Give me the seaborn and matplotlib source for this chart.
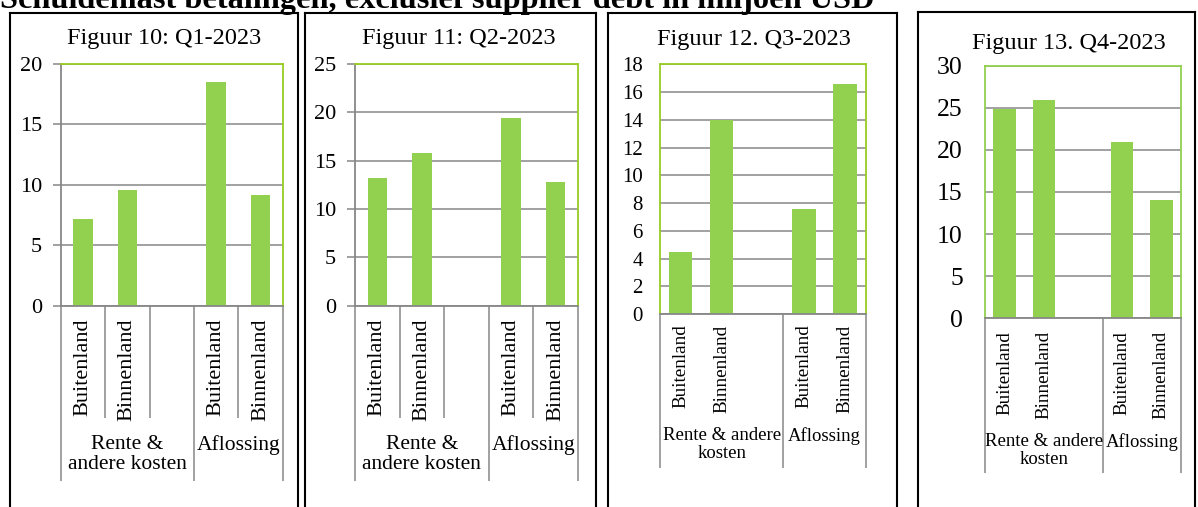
import matplotlib
matplotlib.use("Agg")
import matplotlib.pyplot as plt
import matplotlib.transforms as mtransforms
from matplotlib.lines import Line2D
import seaborn as sns
import pandas as pd

# ---- data -------------------------------------------------------------
main_title = "Schuldenlast betalingen, exclusief supplier debt in miljoen USD"
panel_titles = ["Figuur 10: Q1-2023", "Figuur 11: Q2-2023",
                "Figuur 12. Q3-2023", "Figuur 13. Q4-2023"]

groups = ["Rente & andere kosten", "Rente & andere kosten", "Aflossing", "Aflossing"]
origins = ["Buitenland", "Binnenland", "Buitenland", "Binnenland"]

q1_values = [7.2, 9.6, 18.5, 9.2]
q2_values = [13.2, 15.8, 19.4, 12.8]
q3_values = [4.5, 14.0, 7.6, 16.6]
q4_values = [24.9, 25.9, 20.9, 14.1]

y_maxima = [20, 25, 18, 30]
y_steps = [5, 5, 2, 5]

# group captions as they wrap under the narrow and the wider panels
group_captions_a = ["Rente &\nandere kosten", "Aflossing"]
group_captions_b = ["Rente & andere\nkosten", "Aflossing"]

# ---- styling ----------------------------------------------------------
W, H, DPI = 1198, 507, 100
BAR = "#92D050"
LIME = "#99CC22"
GRID = "#878787"

sns.set_theme(style="white")
plt.rcParams["font.family"] = ["Liberation Serif", "DejaVu Serif"]
plt.rcParams["text.color"] = "black"
plt.rcParams["xtick.color"] = "black"
plt.rcParams["ytick.color"] = "black"


def fx(px):
    return px / W


def fy(py):
    return 1 - py / H


fig = plt.figure(figsize=(W / DPI, H / DPI), dpi=DPI)
fig.patch.set_facecolor("white")

# slot order: two sub-bars, an empty slot, two sub-bars
slot_keys = [f"{g}|{o}" for g, o in zip(groups, origins)]
slot_order = slot_keys[:2] + ["-"] + slot_keys[2:]
slot_labels = origins[:2] + [""] + origins[2:]
group_centers = [1.0, 3.5]

panels = [
    dict(values=q1_values, ax=(60.7, 64.0, 282.7, 305.7), frame=(9.6, 12.6, 297.7),
         title_xy=(164, 44), bw=0.435, ytick_fs=16, ytick_len=5.5, ytick_pad=8.0,
         xtick_fs=16, xtick_pad=9.5, left_color=GRID, side_color=LIME,
         sub_div=418, grp_div=481, caption_top=435, captions=group_captions_a, cap_fs=15.5),
    dict(values=q2_values, ax=(355.0, 64.0, 578.0, 305.7), frame=(305.4, 12.6, 596.0),
         title_xy=(459, 44), bw=0.435, ytick_fs=16, ytick_len=5.5, ytick_pad=8.0,
         xtick_fs=16, xtick_pad=9.5, left_color=GRID, side_color=LIME,
         sub_div=418, grp_div=481, caption_top=435, captions=group_captions_a, cap_fs=15.5),
    dict(values=q3_values, ax=(660.0, 64.3, 865.7, 314.0), frame=(608.4, 12.6, 896.6),
         title_xy=(753.7, 45), bw=0.57, ytick_fs=15, ytick_len=0, ytick_pad=12.5,
         xtick_fs=13.8, xtick_pad=7.5, left_color=LIME, side_color=LIME,
         sub_div=None, grp_div=468, caption_top=427, captions=group_captions_b, cap_fs=13.5),
    dict(values=q4_values, ax=(985.0, 65.7, 1181.0, 318.3), frame=(918.3, 11.5, 1195.0),
         title_xy=(1069, 49), bw=0.57, ytick_fs=18.5, ytick_len=0, ytick_pad=16.0,
         xtick_fs=13.8, xtick_pad=9, left_color=BAR, side_color=BAR,
         sub_div=None, grp_div=473, caption_top=433, captions=group_captions_b, cap_fs=13.5),
]

for i, p in enumerate(panels):
    x0, y0, x1, y1 = p["ax"]
    ax = fig.add_axes([fx(x0), fy(y1), (x1 - x0) / W, (y1 - y0) / H])
    df = pd.DataFrame({"slot": slot_keys, "value": p["values"]})
    sns.barplot(data=df, x="slot", y="value", order=slot_order, color=BAR,
                saturation=1, width=p["bw"], linewidth=0, ax=ax)

    ymax, step = y_maxima[i], y_steps[i]
    ax.set_xlim(-0.5, 4.5)
    ax.set_ylim(0, ymax)
    ax.set_yticks(list(range(0, ymax + 1, step)))
    ax.set_xlabel("")
    ax.set_ylabel("")
    ax.set_facecolor("white")

    ax.set_axisbelow(True)
    ax.yaxis.grid(True, color=GRID, linewidth=1.1)
    ax.xaxis.grid(False)

    for side in ("top", "right"):
        ax.spines[side].set_color(p["side_color"])
        ax.spines[side].set_linewidth(1.3)
    ax.spines["left"].set_color(p["left_color"])
    ax.spines["left"].set_linewidth(1.3)
    ax.spines["bottom"].set_color(GRID)
    ax.spines["bottom"].set_linewidth(1.3)
    for s in ax.spines.values():
        s.set_visible(True)

    ax.tick_params(axis="y", labelsize=p["ytick_fs"], length=p["ytick_len"],
                   width=1.1, color=GRID, pad=p["ytick_pad"], direction="out",
                   left=True)
    ax.set_xticks(range(5))
    ax.set_xticklabels(slot_labels, rotation=90, fontsize=p["xtick_fs"],
                       ha="center", va="top")
    ax.tick_params(axis="x", length=0, pad=p["xtick_pad"])

    trans = mtransforms.blended_transform_factory(ax.transData, fig.transFigure)
    # separators below the category axis
    if p["sub_div"] is not None:
        for xb in (0.5, 1.5, 3.5):
            ax.plot([xb, xb], [fy(y1), fy(p["sub_div"])], transform=trans,
                    color=GRID, lw=1.1, clip_on=False, solid_capstyle="butt")
    for xb in (-0.5, 2.5, 4.5):
        ax.plot([xb, xb], [fy(y1), fy(p["grp_div"])], transform=trans,
                color=GRID, lw=1.1, clip_on=False, solid_capstyle="butt")

    for gx, cap in zip(group_centers, p["captions"]):
        ax.text(gx, fy(p["caption_top"]), cap, transform=trans, ha="center",
                va="top", fontsize=p["cap_fs"], linespacing=1.1)

    # panel heading
    tx, ty = p["title_xy"]
    fig.text(fx(tx), fy(ty), panel_titles[i], ha="center", va="baseline",
             fontsize=17.5)

    # panel frame: left, top and right sides, running off the bottom edge
    bx0, by0, bx1 = p["frame"]
    for xs, ys in (([bx0, bx0], [by0, H + 10]), ([bx0, bx1], [by0, by0]),
                   ([bx1, bx1], [by0, H + 10])):
        fig.add_artist(Line2D([fx(v) for v in xs], [fy(v) for v in ys],
                              transform=fig.transFigure, color="black",
                              lw=1.5, solid_capstyle="projecting"))

# overall heading, fitted to its line width
head = fig.text(fx(0), fy(8), main_title, ha="left", va="baseline",
                fontsize=21, fontweight="bold")
fig.canvas.draw()
ext = head.get_window_extent(renderer=fig.canvas.get_renderer())
head.set_fontsize(21 * 870 / ext.width)

fig.savefig("out.png", dpi=DPI, facecolor="white")
